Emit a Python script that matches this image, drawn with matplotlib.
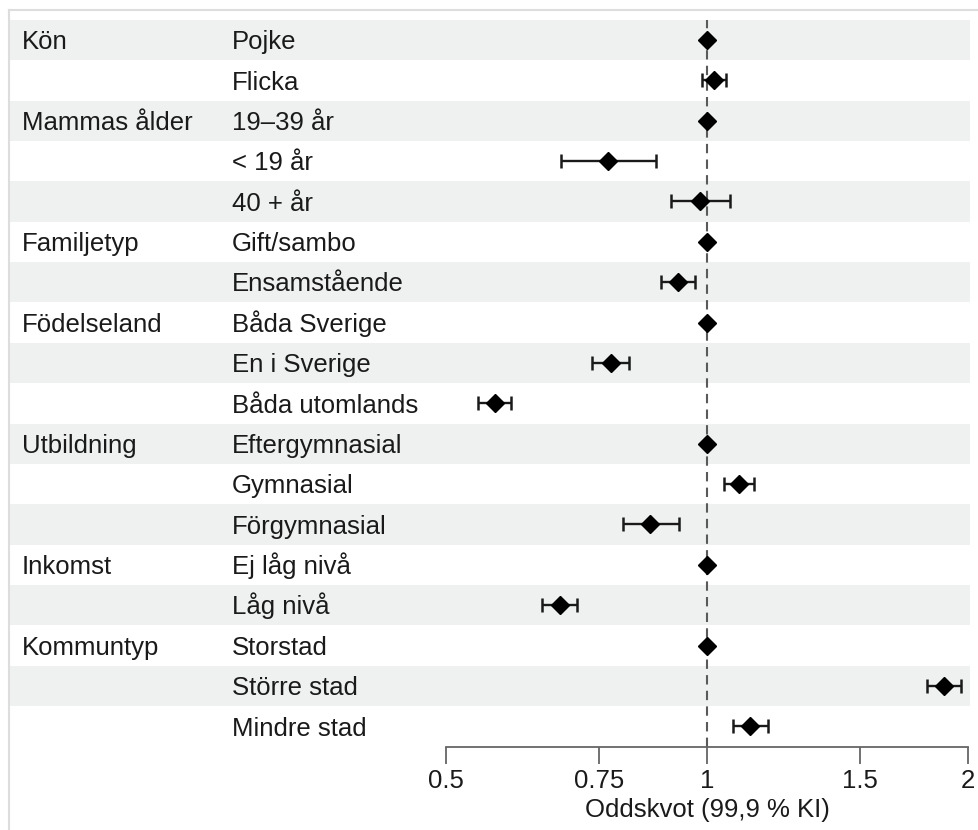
import matplotlib
matplotlib.use("Agg")
import matplotlib.pyplot as plt
from matplotlib import transforms
from matplotlib.lines import Line2D
from matplotlib.patches import Rectangle
import numpy as np

plt.rcParams['font.family'] = ['Liberation Sans', 'DejaVu Sans']

# data
groups = ["Kön", "", "Mammas ålder", "", "", "Familjetyp", "", "Födelseland", "", "",
          "Utbildning", "", "", "Inkomst", "", "Kommuntyp", "", ""]
levels = ["Pojke", "Flicka", "19–39 år", "< 19 år", "40 + år", "Gift/sambo", "Ensamstående",
          "Båda Sverige", "En i Sverige", "Båda utomlands", "Eftergymnasial", "Gymnasial",
          "Förgymnasial", "Ej låg nivå", "Låg nivå", "Storstad", "Större stad", "Mindre stad"]
odds = [1.0, 1.02, 1.0, 0.769, 0.982, 1.0, 0.925, 1.0, 0.774, 0.569, 1.0, 1.088,
        0.860, 1.0, 0.676, 1.0, 1.876, 1.120]
ci_low = [np.nan, 0.986, np.nan, 0.678, 0.908, np.nan, 0.885, np.nan, 0.736, 0.544, np.nan, 1.045,
          0.801, np.nan, 0.645, np.nan, 1.795, 1.071]
ci_high = [np.nan, 1.052, np.nan, 0.873, 1.063, np.nan, 0.969, np.nan, 0.813, 0.594, np.nan, 1.133,
           0.928, np.nan, 0.708, np.nan, 1.964, 1.176]
xticks = [0.5, 0.75, 1, 1.5, 2]
xticklabels = ["0.5", "0.75", "1", "1.5", "2"]

FS = 18.5
TXT = "#1a1a1a"

W, H = 979, 830
fig = plt.figure(figsize=(W / 100, H / 100), dpi=100)
ax = fig.add_axes([446 / W, 1 - 746.5 / H, (968 - 446) / W, (746.5 - 19.8) / H])

n = len(levels)
y = np.arange(n)
ax.set_xscale('log')
ax.set_xlim(0.5, 2)
ax.set_ylim(n - 0.5, -0.5)

# row shading across the whole figure width
tr = transforms.blended_transform_factory(fig.transFigure, ax.transData)
for i in range(0, n, 2):
    ax.add_patch(Rectangle((10 / W, i - 0.5), (970 - 10) / W, 1.0, transform=tr,
                           facecolor="#eef1f0", edgecolor="none", clip_on=False, zorder=0))

# labels, baseline shifted so capitals sit centred on the row
cap = 0.716 * FS / 2
tr_txt = tr + transforms.ScaledTranslation(0, -cap / 72, fig.dpi_scale_trans)
for i in range(n):
    if groups[i]:
        ax.text(22 / W, i, groups[i], transform=tr_txt, ha="left", va="baseline",
                fontsize=FS, color=TXT)
    ax.text(232 / W, i, levels[i], transform=tr_txt, ha="left", va="baseline",
            fontsize=FS, color=TXT)

ax.axvline(1, color="#5a5a5a", lw=1.5, ls=(0, (4.5, 3)), zorder=1)

lo = np.array(odds) - np.array(ci_low)
hi = np.array(ci_high) - np.array(odds)
ax.errorbar(odds, y, xerr=[lo, hi], fmt="none", ecolor=TXT, elinewidth=1.7,
            capsize=5, capthick=1.8, zorder=2)
ax.plot(odds, y, "D", color="black", markersize=9.5, zorder=3)

for s in ["top", "right", "left"]:
    ax.spines[s].set_visible(False)
ax.spines["bottom"].set_color("#666666")
ax.spines["bottom"].set_linewidth(1.3)
ax.set_yticks([])
ax.set_xticks(xticks)
ax.set_xticklabels(xticklabels)
ax.xaxis.set_minor_locator(matplotlib.ticker.NullLocator())
ax.tick_params(axis="x", length=12, width=1.3, color="#666666", labelsize=FS,
               labelcolor=TXT, pad=4)
ax.set_xlabel("Oddskvot (99,9 % KI)", fontsize=FS, color=TXT, labelpad=4)
ax.patch.set_visible(False)

# light frame
fig.add_artist(Line2D([9 / W, 1], [1 - 10 / H, 1 - 10 / H], color="#dddddd", lw=1.5))
fig.add_artist(Line2D([9 / W, 9 / W], [0, 1 - 10 / H], color="#dddddd", lw=1.5))

fig.savefig("out.png", dpi=100)
